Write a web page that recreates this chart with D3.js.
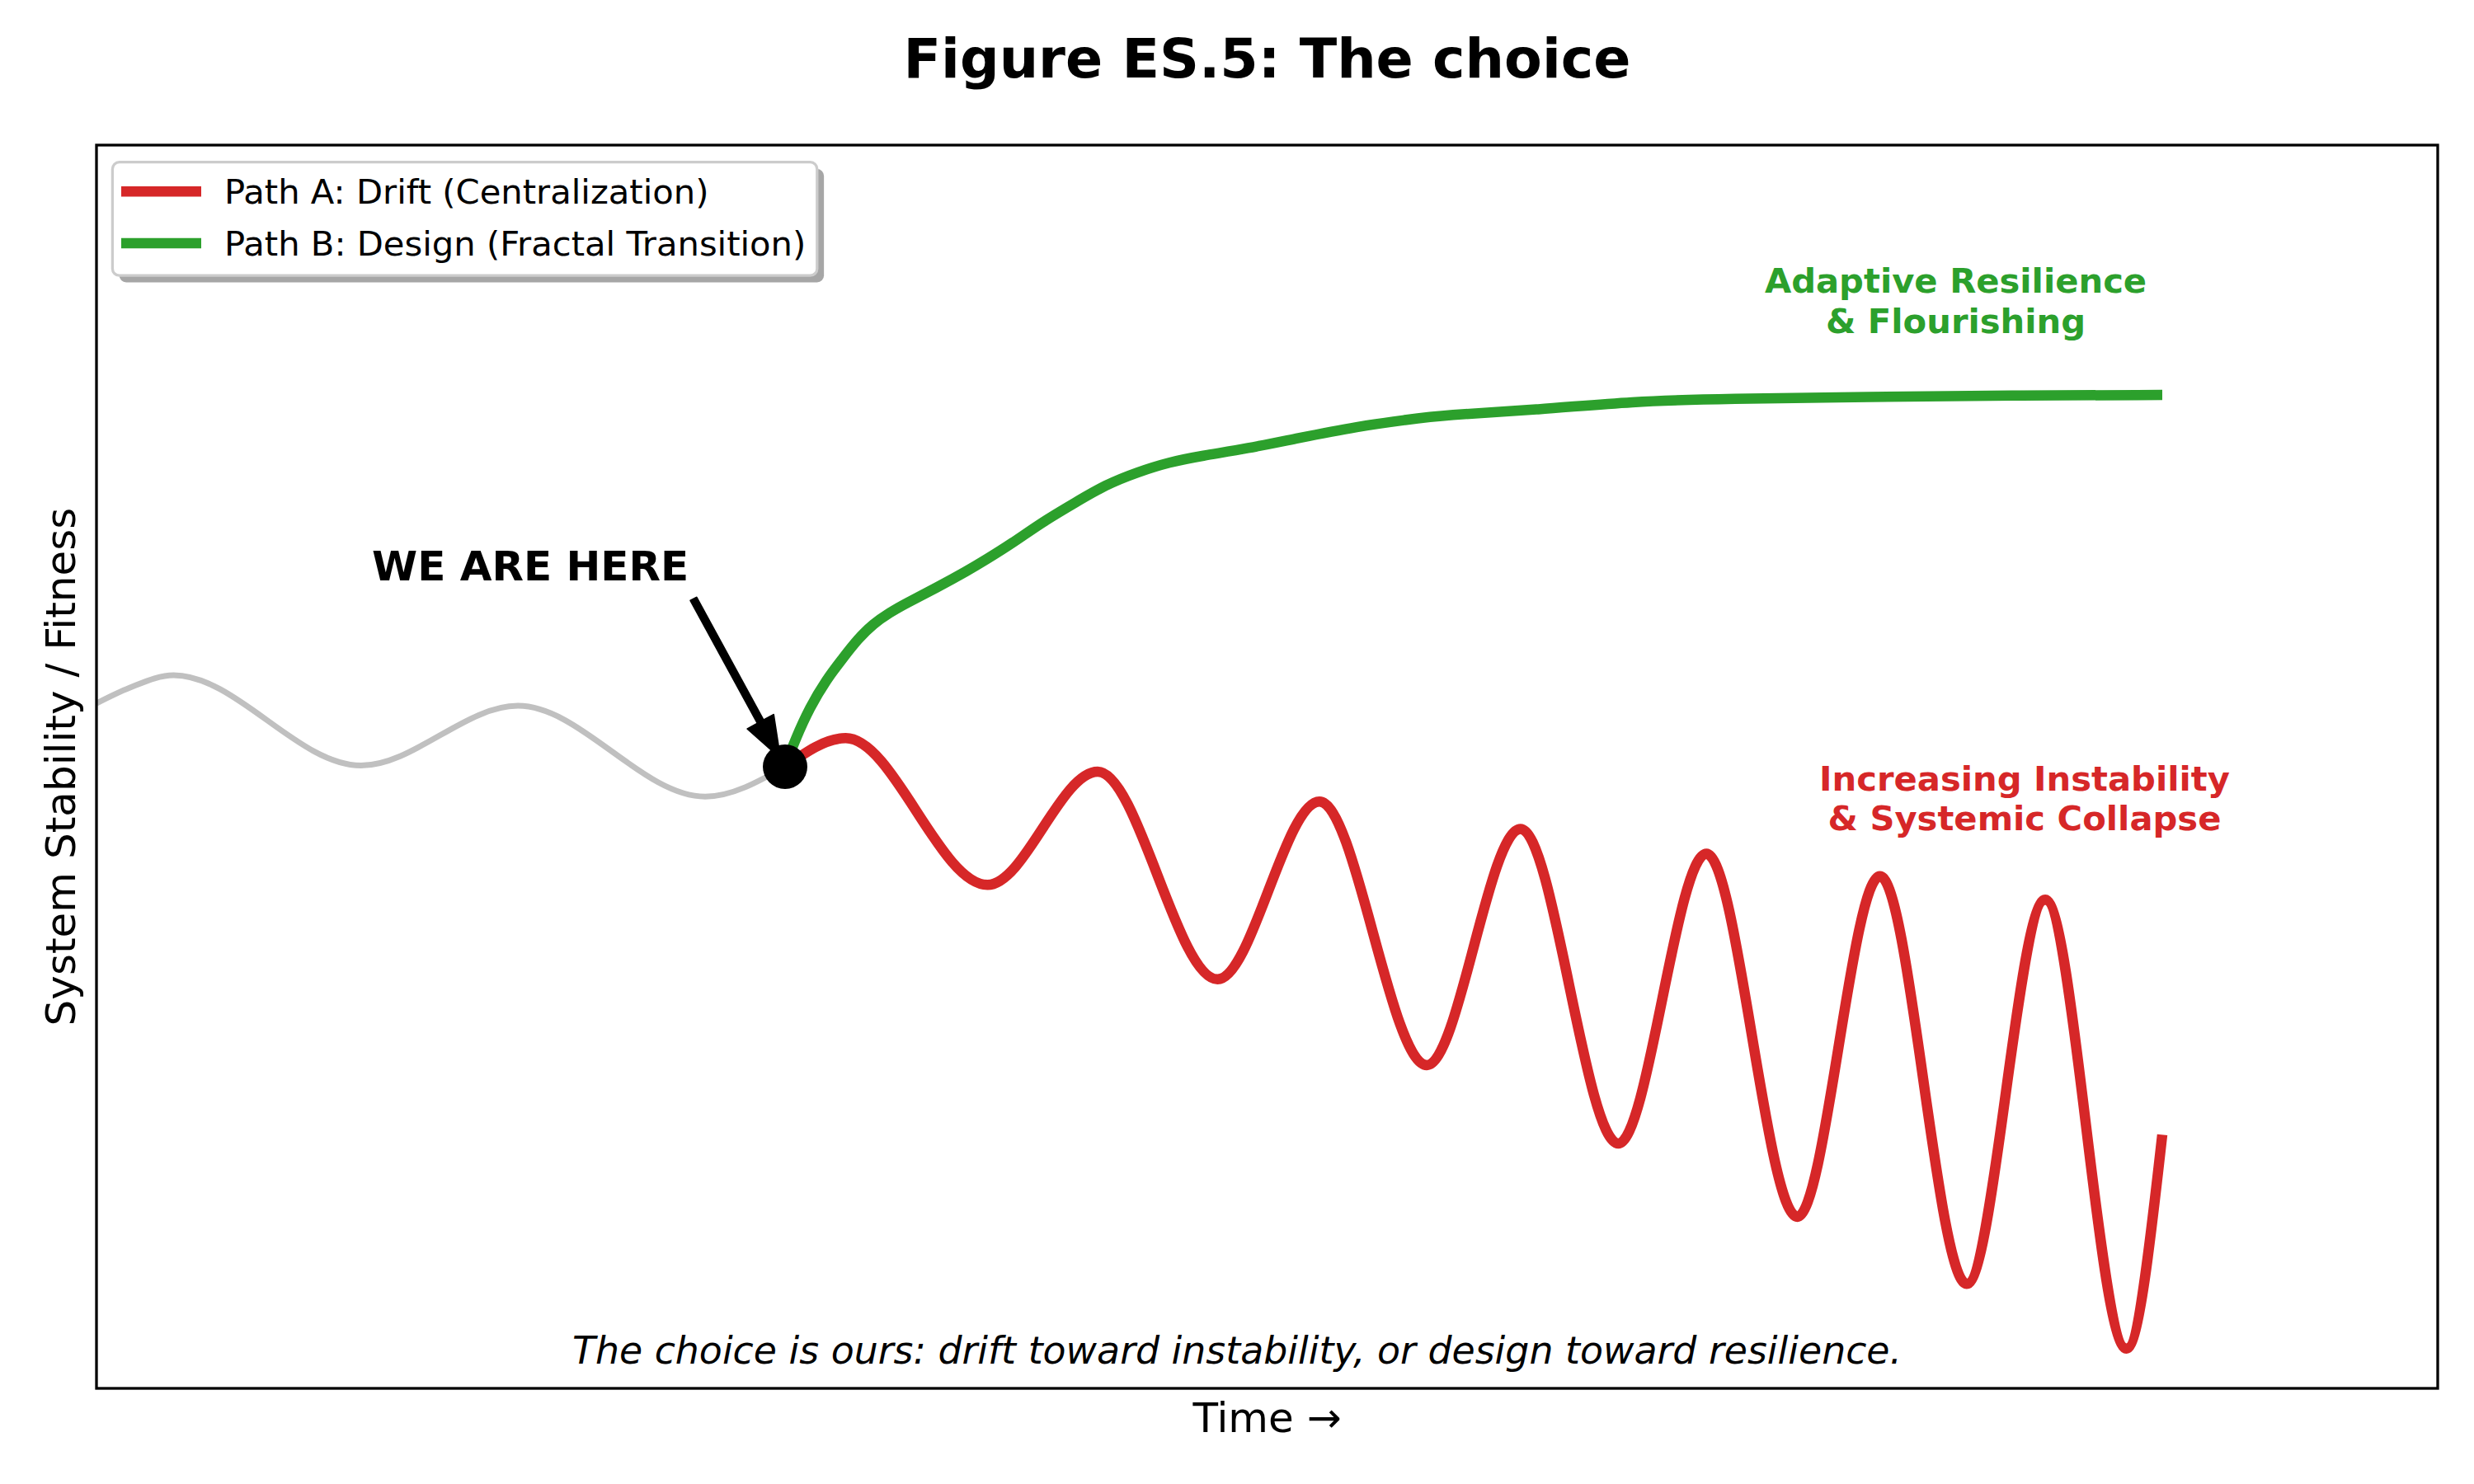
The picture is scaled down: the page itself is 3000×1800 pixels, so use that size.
<!DOCTYPE html>
<html><head><meta charset="utf-8">
<script src="https://cdn.jsdelivr.net/npm/d3@7"></script>
<style>
body{margin:0;background:#fff}
svg{display:block}
text{font-family:"DejaVu Sans",sans-serif}
</style>
</head><body>
<svg id="chart" width="3000" height="1800"></svg>
<script>
// ---------- data ----------
const baselineTime      = [0, 0.24, 0.56, 1.92, 3.06, 4.42, 5.0];
const baselineStability = [5.51, 5.635, 5.736, 5.01, 5.49, 4.76, 5.0];

const driftTime      = [5.0, 5.44, 6.47, 7.27, 8.14, 8.88, 9.66, 10.34, 11.05, 11.69, 12.35, 12.95, 13.58, 14.15, 14.74, 15.0];
const driftStability = [5.0, 5.23, 4.05, 4.96, 3.29, 4.72, 2.60, 4.50, 1.97, 4.30, 1.38, 4.12, 0.84, 3.93, 0.32, 2.04];

const designTime      = [5.0, 5.07, 5.18, 5.30, 5.41, 5.53, 5.64, 5.76, 5.87, 6.10, 6.33, 6.45, 6.64, 6.87, 7.10, 7.33, 7.56, 7.79, 8.02, 8.36, 8.71, 9.17, 9.51, 9.78, 10.47, 11.15, 11.84, 12.87, 13.90, 15.0];
const designStability = [5.0, 5.21, 5.48, 5.70, 5.86, 6.03, 6.15, 6.24, 6.31, 6.44, 6.58, 6.66, 6.79, 6.97, 7.12, 7.27, 7.37, 7.45, 7.50, 7.56, 7.64, 7.74, 7.79, 7.83, 7.87, 7.94, 7.96, 7.975, 7.987, 7.99];

const nowPoint = [5.0, 5.0];
const xDomain = [0, 17];
const yDomain = [0, 10];

const seriesLabels = ["Path A: Drift (Centralization)", "Path B: Design (Fractal Transition)"];
const titleText = "Figure ES.5: The choice";
const xLabelText = "Time \u2192";
const yLabelText = "System Stability / Fitness";
const hereLabel = "WE ARE HERE";
const hereLabelPos = [2.0, 6.5];
const designNote = ["Adaptive Resilience", "& Flourishing"];
const designNotePos = [13.5, 8.81];
const driftNote = ["Increasing Instability", "& Systemic Collapse"];
const driftNotePos = [14.0, 4.81];
const footnoteText = "The choice is ours: drift toward instability, or design toward resilience.";

// ---------- layout ----------
const W = 3000, H = 1800;
const plot = {left: 117, right: 2956, top: 176, bottom: 1684};
const RED = "#d62728", GREEN = "#2ca02c", GRAY = "#c0c0c0";

const svg = d3.select("#chart");
const x = d3.scaleLinear().domain(xDomain).range([plot.left, plot.right]);
const y = d3.scaleLinear().domain(yDomain).range([plot.bottom, plot.top]);

const line = d3.line().x(d => x(d[0])).y(d => y(d[1])).curve(d3.curveMonotoneX);
const smoothLine = d3.line().x(d => x(d[0])).y(d => y(d[1])).curve(d3.curveBasis);
const zip = (a, b) => a.map((v, i) => [v, b[i]]);

svg.append("defs").append("clipPath").attr("id", "clip")
  .append("rect").attr("x", plot.left).attr("y", plot.top)
  .attr("width", plot.right - plot.left).attr("height", plot.bottom - plot.top);

const g = svg.append("g").attr("clip-path", "url(#clip)");

g.append("path").datum(zip(baselineTime, baselineStability))
  .attr("d", line).attr("fill", "none").attr("stroke", GRAY)
  .attr("stroke-width", 7).attr("stroke-linejoin", "round");

g.append("path").datum(zip(driftTime, driftStability))
  .attr("d", line).attr("fill", "none").attr("stroke", RED)
  .attr("stroke-width", 12.5).attr("stroke-linejoin", "round").attr("stroke-linecap", "butt");

g.append("path").datum(zip(designTime, designStability))
  .attr("d", smoothLine).attr("fill", "none").attr("stroke", GREEN)
  .attr("stroke-width", 12.5).attr("stroke-linejoin", "round").attr("stroke-linecap", "butt");

// axes frame (no ticks)
svg.append("rect").attr("x", plot.left).attr("y", plot.top)
  .attr("width", plot.right - plot.left).attr("height", plot.bottom - plot.top)
  .attr("fill", "none").attr("stroke", "#000").attr("stroke-width", 3.3);

// "WE ARE HERE" annotation
const hereText = svg.append("text")
  .attr("x", x(hereLabelPos[0])).attr("y", y(hereLabelPos[1]))
  .attr("font-size", 50).attr("font-weight", "bold").attr("fill", "#000")
  .text(hereLabel);

const bb = hereText.node().getBBox();
const tx = x(nowPoint[0]), ty = y(nowPoint[1]);
const cx = [bb.x, bb.x + bb.width / 2, bb.x + bb.width].reduce((a, b) => Math.abs(b - tx) < Math.abs(a - tx) ? b : a);
const cy = [bb.y, bb.y + bb.height / 2, bb.y + bb.height].reduce((a, b) => Math.abs(b - ty) < Math.abs(a - ty) ? b : a);
{
  const dx = tx - cx, dy = ty - cy, L = Math.hypot(dx, dy);
  const ux = dx / L, uy = dy / L, nx = -uy, ny = ux;
  const shrink = 0.05 * L;
  const p0 = [cx + ux * shrink, cy + uy * shrink];
  const p1 = [tx - ux * shrink, ty - uy * shrink];
  const headLen = 50, hw = 36, tw = 8.3;
  const base = [p1[0] - ux * headLen, p1[1] - uy * headLen];
  const pts = [
    [p0[0] + nx * tw / 2, p0[1] + ny * tw / 2],
    [base[0] + nx * tw / 2, base[1] + ny * tw / 2],
    [base[0] + nx * hw / 2, base[1] + ny * hw / 2],
    p1,
    [base[0] - nx * hw / 2, base[1] - ny * hw / 2],
    [base[0] - nx * tw / 2, base[1] - ny * tw / 2],
    [p0[0] - nx * tw / 2, p0[1] - ny * tw / 2]
  ];
  svg.append("polygon").attr("points", pts.map(p => p.join(",")).join(" "))
    .attr("fill", "#000").attr("stroke", "#000").attr("stroke-width", 2).attr("stroke-linejoin", "round");
}

// "we are here" dot
svg.append("circle").attr("cx", x(nowPoint[0])).attr("cy", y(nowPoint[1]))
  .attr("r", 27).attr("fill", "#000");

// outcome notes
function note(lines, pos, color) {
  const t = svg.append("text").attr("text-anchor", "middle")
    .attr("font-size", 41.7).attr("font-weight", "bold").attr("fill", color);
  lines.forEach((s, i) => {
    t.append("tspan").attr("x", x(pos[0])).attr("y", y(pos[1]) + i * 48.5).text(s);
  });
}
note(designNote, designNotePos, GREEN);
note(driftNote, driftNotePos, RED);

// footnote
svg.append("text").attr("x", W / 2).attr("y", 1654).attr("text-anchor", "middle")
  .attr("font-size", 45.8).attr("font-style", "italic").attr("fill", "#000")
  .text(footnoteText);

// title & axis labels
svg.append("text").attr("x", (plot.left + plot.right) / 2).attr("y", 94)
  .attr("text-anchor", "middle").attr("font-size", 66.7).attr("font-weight", "bold")
  .text(titleText);
svg.append("text").attr("x", (plot.left + plot.right) / 2).attr("y", 1737)
  .attr("text-anchor", "middle").attr("font-size", 50).text(xLabelText);
svg.append("text").attr("transform", `translate(91,${(plot.top + plot.bottom) / 2}) rotate(-90)`)
  .attr("text-anchor", "middle").attr("font-size", 50).text(yLabelText);

// legend
const lg = svg.append("g");
const lgBox = {x: 136.4, y: 196.7, w: 854.4, h: 137.5};
lg.append("rect").attr("x", lgBox.x + 8.3).attr("y", lgBox.y + 8.3)
  .attr("width", lgBox.w).attr("height", lgBox.h).attr("rx", 8.3)
  .attr("fill", "#4d4d4d").attr("fill-opacity", 0.5);
lg.append("rect").attr("x", lgBox.x).attr("y", lgBox.y)
  .attr("width", lgBox.w).attr("height", lgBox.h).attr("rx", 8.3)
  .attr("fill", "#fff").attr("stroke", "#cccccc").attr("stroke-width", 3.3);
const legendColors = [RED, GREEN];
seriesLabels.forEach((lab, i) => {
  const cyRow = 232.3 + i * 62.7;
  lg.append("line").attr("x1", 147).attr("x2", 244).attr("y1", cyRow).attr("y2", cyRow)
    .attr("stroke", legendColors[i]).attr("stroke-width", 12.5);
  lg.append("text").attr("x", 272).attr("y", cyRow + 14.5)
    .attr("font-size", 41.7).attr("fill", "#000").text(lab);
});
</script>
</body></html>
